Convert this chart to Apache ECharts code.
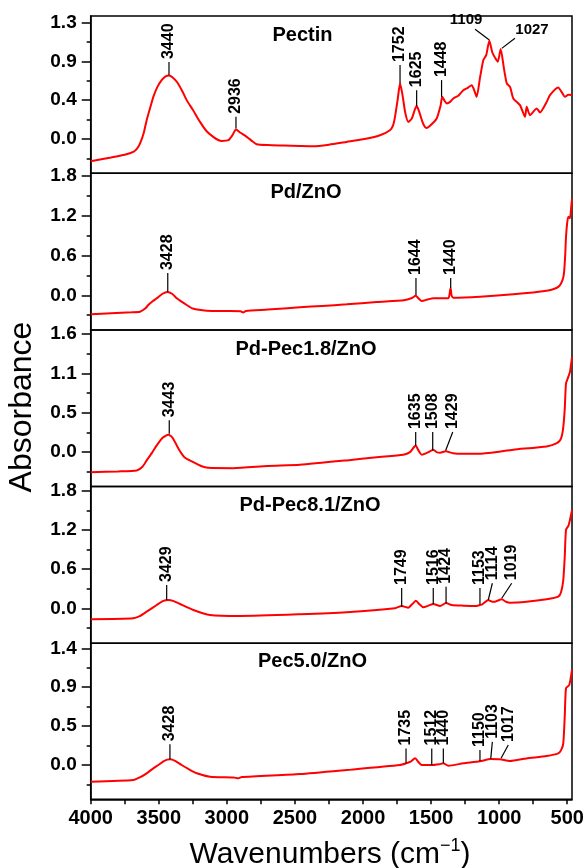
<!DOCTYPE html>
<html>
<head>
<meta charset="utf-8">
<script src="https://cdn.jsdelivr.net/npm/echarts@6/dist/echarts.min.js"></script>
<style>
  html, body { margin: 0; padding: 0; background: #fff; }
  #chart { width: 585px; height: 868px; }
</style>
</head>
<body>
<div id="chart"></div>
<script>
// spectra: [wavenumber, absorbance]
const pectin = [[4000,-0.253],[3850,-0.21],[3750,-0.18],[3687,-0.148],[3660,-0.11],[3638,-0.053],[3610,0.07],[3589,0.213],[3560,0.37],[3540,0.477],[3510,0.59],[3479,0.667],[3450,0.71],[3425,0.72],[3400,0.7],[3368,0.648],[3330,0.55],[3295,0.44],[3250,0.33],[3197,0.193],[3150,0.09],[3100,0.023],[3060,-0.015],[3038,-0.023],[2989,-0.015],[2960,0.04],[2933,0.107],[2900,0.07],[2854,0.023],[2810,-0.03],[2781,-0.06],[2700,-0.07],[2585,-0.075],[2463,-0.08],[2365,-0.083],[2250,-0.065],[2120,-0.034],[2000,-0.005],[1875,0.042],[1802,0.099],[1780,0.15],[1765,0.25],[1745,0.45],[1728,0.63],[1710,0.5],[1690,0.3],[1667,0.193],[1642,0.23],[1620,0.33],[1606,0.372],[1590,0.32],[1565,0.2],[1545,0.135],[1532,0.125],[1500,0.16],[1459,0.232],[1430,0.38],[1418,0.477],[1400,0.43],[1385,0.402],[1360,0.42],[1337,0.459],[1300,0.49],[1263,0.553],[1230,0.58],[1202,0.61],[1185,0.56],[1165,0.477],[1140,0.7],[1116,0.894],[1095,0.95],[1072,1.114],[1050,0.98],[1030,0.92],[1010,0.875],[989,1.02],[965,0.8],[944,0.63],[920,0.59],[896,0.459],[847,0.383],[810,0.25],[798,0.364],[774,0.27],[724,0.345],[700,0.3],[651,0.42],[627,0.497],[566,0.584],[542,0.534],[517,0.477],[492,0.5],[465,0.497]];
const pdZnO = [[4000,-0.287],[3850,-0.27],[3700,-0.255],[3638,-0.247],[3600,-0.2],[3577,-0.146],[3545,-0.09],[3515,-0.045],[3475,0.02],[3437,0.05],[3400,0.02],[3368,-0.045],[3330,-0.1],[3295,-0.146],[3250,-0.2],[3148,-0.232],[3000,-0.237],[2900,-0.24],[2880,-0.26],[2860,-0.235],[2700,-0.215],[2463,-0.181],[2300,-0.16],[2120,-0.136],[1900,-0.1],[1700,-0.075],[1640,-0.04],[1613,-0.006],[1590,-0.05],[1569,-0.086],[1520,-0.06],[1484,-0.045],[1374,-0.045],[1360,0.08],[1356,0.106],[1350,0.0],[1337,-0.036],[1141,-0.021],[896,0.015],[651,0.069],[580,0.11],[553,0.155],[535,0.23],[524,0.332],[515,0.6],[509,0.884],[500,1.1],[492,1.186],[480,1.161],[470,1.35],[465,1.45]];
const pdPec18 = [[4000,-0.275],[3800,-0.265],[3662,-0.252],[3620,-0.2],[3589,-0.114],[3550,-0.01],[3515,0.092],[3470,0.2],[3430,0.239],[3400,0.2],[3368,0.092],[3340,0.0],[3307,-0.077],[3246,-0.138],[3190,-0.19],[3136,-0.215],[2953,-0.22],[2700,-0.19],[2463,-0.174],[2120,-0.114],[1900,-0.07],[1704,-0.036],[1655,0.0],[1625,0.07],[1613,0.092],[1595,0.03],[1569,-0.036],[1520,0.0],[1484,0.033],[1460,0.0],[1434,-0.008],[1393,0.01],[1340,-0.015],[1263,-0.022],[1141,-0.022],[896,0.033],[651,0.078],[580,0.12],[553,0.161],[540,0.22],[529,0.344],[518,0.6],[509,0.941],[492,1.032],[480,1.1],[465,1.3]];
const pdPec81 = [[4000,-0.168],[3687,-0.153],[3640,-0.12],[3589,-0.052],[3515,0.05],[3470,0.11],[3430,0.127],[3390,0.11],[3344,0.066],[3246,-0.026],[3124,-0.103],[2903,-0.118],[2463,-0.092],[2120,-0.061],[1765,0.0],[1716,0.035],[1667,0.009],[1640,0.06],[1611,0.116],[1585,0.06],[1557,0.015],[1520,0.04],[1484,0.066],[1434,0.035],[1390,0.081],[1350,0.05],[1263,0.04],[1165,0.035],[1141,0.05],[1124,0.061],[1080,0.127],[1050,0.1],[1030,0.101],[981,0.138],[950,0.1],[920,0.086],[800,0.1],[651,0.138],[566,0.178],[545,0.25],[529,0.433],[518,0.8],[509,1.199],[489,1.275],[465,1.5]];
const pec50 = [[4000,-0.201],[3687,-0.181],[3640,-0.15],[3589,-0.1],[3540,-0.04],[3503,0.0],[3460,0.05],[3418,0.069],[3380,0.05],[3332,0.0],[3280,-0.05],[3221,-0.1],[3124,-0.141],[2950,-0.15],[2916,-0.161],[2890,-0.145],[2463,-0.109],[2120,-0.06],[1728,0.0],[1684,0.02],[1650,0.04],[1618,0.081],[1590,0.03],[1569,0.0],[1495,0.0],[1440,0.01],[1410,0.02],[1374,-0.008],[1263,0.02],[1141,0.045],[1062,0.072],[994,0.069],[920,0.048],[800,0.08],[651,0.109],[566,0.141],[545,0.18],[529,0.262],[518,0.6],[509,0.927],[485,0.967],[465,1.15]];

// peak labels: [text, peak wn, peak abs, leader end wn, leader end abs, (horizontal text wn, abs)]
const pectinPeaks = [['3440',3425,0.724,3425,0.872],['2936',2933,0.118,2933,0.25],['1752',1728,0.63,1728,0.8375],['1625',1606,0.372,1606,0.553],['1448',1423,0.477,1423,0.667],['1109',1072,1.122,1177,1.243,1243,1.264],['1027',981,1.027,884,1.141,759,1.15]];
const pdZnOPeaks = [['3428',3434,0.054,3434,0.336],['1644',1611,0.005,1611,0.261],['1440',1356,0.11,1356,0.261]];
const pdPec18Peaks = [['3443',3423,0.253,3423,0.436],['1635',1613,0.092,1613,0.275],['1508',1488,0.023,1488,0.275],['1429',1393,0.023,1341,0.275]];
const pdPec81Peaks = [['3429',3442,0.127,3442,0.357],['1749',1716,0.024,1716,0.311],['1516',1484,0.066,1484,0.311],['1424',1390,0.077,1390,0.331],['1153',1141,0.061,1141,0.311],['1114',1080,0.127,1050,0.383],['1019',981,0.153,908,0.383]];
const pec50Peaks = [['3428',3418,0.069,3418,0.25],['1735',1684,0.02,1684,0.2],['1512',1495,0,1495,0.2],['1440',1410,0.02,1410,0.2],['1150',1141,0.048,1141,0.181],['1103',1062,0.072,1050,0.28],['1017',986,0.081,933,0.242]];

const panelNames = ['Pectin', 'Pd/ZnO', 'Pd-Pec1.8/ZnO', 'Pd-Pec8.1/ZnO', 'Pec5.0/ZnO'];

// y ticks (origin rounds the labels to one decimal)
const yTicks = [[0, 0.44, 0.88, 1.32], [0, 0.6, 1.2, 1.8], [0, 0.54, 1.08, 1.62], [0, 0.6, 1.2, 1.8], [0, 0.47, 0.94, 1.41]];
const yTickLabels = [['0.0','0.4','0.9','1.3'], ['0.0','0.6','1.2','1.8'], ['0.0','0.5','1.1','1.6'], ['0.0','0.6','1.2','1.8'], ['0.0','0.5','0.9','1.4']];
const yMinorTicks = [[-0.22, 0.22, 0.66, 1.1], [-0.3, 0.3, 0.9, 1.5], [-0.27, 0.27, 0.81, 1.35], [-0.3, 0.3, 0.9, 1.5], [-0.235, 0.235, 0.705, 1.175]];
const yRange = [[-0.39, 1.394], [-0.523, 1.84], [-0.472, 1.675], [-0.536, 1.864], [-0.414, 1.47]];

const xTicks = [4000, 3750, 3500, 3250, 3000, 2750, 2500, 2250, 2000, 1750, 1500, 1250, 1000, 750, 500];
const xTickLabels = [4000, 3500, 3000, 2500, 2000, 1500, 1000, 500];

const spectra = [pectin, pdZnO, pdPec18, pdPec81, pec50];
const peaks = [pectinPeaks, pdZnOPeaks, pdPec18Peaks, pdPec81Peaks, pec50Peaks];

const FONT = "'Liberation Sans', Arial, sans-serif";
const tops = [16, 173.3, 330, 486.5, 643.3];
const heights = [157.3, 156.7, 156.5, 156.8, 156];
const titleY = [35.5, 192, 349.5, 505, 661];
const titleX = [302.5, 306, 306, 310, 312.5];

const chart = echarts.init(document.getElementById('chart'), null, { renderer: 'canvas' });

const grid = [], xAxis = [], yAxis = [], series = [], graphic = [];

spectra.forEach((data, i) => {
  grid.push({
    left: 90.7, right: 13, top: tops[i], height: heights[i], containLabel: false, outerBoundsMode: 'none',
    show: true, borderColor: '#000', borderWidth: 1.5, backgroundColor: 'transparent',
  });
  const last = i === spectra.length - 1;
  xAxis.push({
    type: 'value', gridIndex: i, inverse: true, min: 465, max: 4000, show: last, position: 'bottom',
    splitLine: { show: false },
    axisLine: { onZero: false, lineStyle: { color: '#000', width: 1.5 } },
    axisTick: { customValues: xTicks, length: 5, lineStyle: { color: '#000', width: 1.5 } },
    axisLabel: {
      customValues: xTickLabels, showMinLabel: true, showMaxLabel: true, hideOverlap: false,
      color: '#000', fontFamily: FONT, fontWeight: 'bold', fontSize: 20, margin: 9,
      formatter: v => String(Math.round(v)),
    },
  });
  yAxis.push({
    type: 'value', gridIndex: i, position: 'left', min: yRange[i][0], max: yRange[i][1],
    splitLine: { show: false },
    axisLine: { show: true, onZero: false, lineStyle: { color: '#000', width: 1.5 } },
    axisTick: { show: true, customValues: yTicks[i], length: 9, lineStyle: { color: '#000', width: 1.5 } },
    axisLabel: {
      customValues: yTicks[i], color: '#000', fontFamily: FONT, fontWeight: 'bold', fontSize: 19, margin: 14,
      formatter: v => {
        let k = 0;
        yTicks[i].forEach((t, j) => { if (Math.abs(t - v) < Math.abs(yTicks[i][k] - v)) k = j; });
        return yTickLabels[i][k];
      },
    },
  });
  // second axis only for the small minor ticks
  yAxis.push({
    type: 'value', gridIndex: i, position: 'left', offset: 0, min: yRange[i][0], max: yRange[i][1],
    splitLine: { show: false },
    axisLine: { show: false, onZero: false },
    axisTick: { show: true, customValues: yMinorTicks[i], length: 4, lineStyle: { color: '#000', width: 1.5 } },
    axisLabel: { show: false },
  });
  series.push({
    type: 'line', xAxisIndex: i, yAxisIndex: i * 2, data: data, showSymbol: false, smooth: 0.2,
    lineStyle: { color: '#ff0000', width: 2 }, animation: false, silent: true,
  });
  const list = peaks[i];
  series.push({
    type: 'custom', xAxisIndex: i, yAxisIndex: i * 2, silent: true, z: 5, clip: false, animation: false,
    data: list.map(a => [a[1], a[2], a[3], a[4]]),
    renderItem: (params, api) => {
      const a = list[params.dataIndex];
      const p0 = api.coord([api.value(0), api.value(1)]);
      const p1 = api.coord([api.value(2), api.value(3)]);
      const kids = [{ type: 'line', shape: { x1: p0[0], y1: p0[1], x2: p1[0], y2: p1[1] }, style: { stroke: '#000', lineWidth: 1.2 } }];
      if (a.length > 5) {
        const t = api.coord([a[5], a[6]]);
        kids.push({ type: 'text', x: t[0], y: t[1], style: { text: a[0], font: 'bold 15px ' + FONT, fill: '#000', align: 'center', verticalAlign: 'bottom' } });
      } else {
        kids.push({ type: 'text', x: p1[0], y: p1[1] - 3, rotation: Math.PI / 2, style: { text: a[0], font: 'bold 16px ' + FONT, fill: '#000', align: 'left', verticalAlign: 'middle' } });
      }
      return { type: 'group', children: kids };
    },
  });
  graphic.push({
    type: 'text', x: titleX[i], y: titleY[i], z: 10,
    style: { text: panelNames[i], font: 'bold 20px ' + FONT, fill: '#000', align: 'center', verticalAlign: 'middle', textAlign: 'center', textVerticalAlign: 'middle' },
  });
});

graphic.push({
  type: 'text', x: 22, y: 407, rotation: Math.PI / 2, z: 10,
  style: { text: 'Absorbance', font: '32px ' + FONT, fill: '#000', align: 'center', verticalAlign: 'middle', textAlign: 'center', textVerticalAlign: 'middle' },
});
graphic.push({
  type: 'text', x: 330, y: 855, z: 10,
  style: {
    text: '{a|Wavenumbers (cm}{b|−1}{a|)}', fill: '#000', align: 'center', verticalAlign: 'middle', textAlign: 'center', textVerticalAlign: 'middle',
    rich: {
      a: { fontFamily: FONT, fontSize: 30, lineHeight: 36, fill: '#000', verticalAlign: 'middle' },
      b: { fontFamily: FONT, fontSize: 18, lineHeight: 22, fill: '#000', verticalAlign: 'top' },
    },
  },
});

chart.setOption({ animation: false, grid, xAxis, yAxis, series, graphic });
</script>
</body>
</html>
